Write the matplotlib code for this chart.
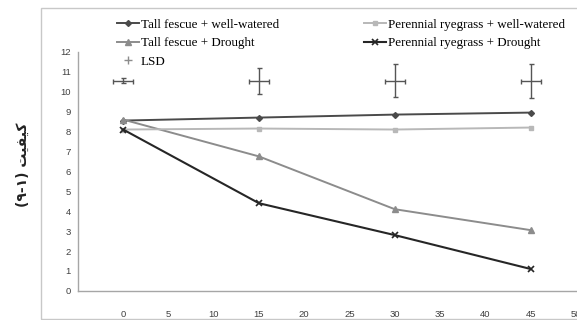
import matplotlib

matplotlib.use("Agg")
import matplotlib.pyplot as plt
from matplotlib.patches import Rectangle


DAYS = [0, 15, 30, 45]

TALL_FESCUE_WELL = [8.55, 8.7, 8.85, 8.95]
RYEGRASS_WELL = [8.1, 8.15, 8.1, 8.2]
TALL_FESCUE_DROUGHT = [8.6, 6.75, 4.1, 3.05]
RYEGRASS_DROUGHT = [8.1, 4.4, 2.8, 1.1]

LSD_CENTER = [10.55, 10.55, 10.55, 10.55]
LSD_HALF = [0.12, 0.66, 0.82, 0.85]
LSD_X_HALF = 1.1

X_TICKS = [0, 5, 10, 15, 20, 25, 30, 35, 40, 45, 50]
Y_TICKS = list(range(0, 13))

Y_LABEL = "کیفیت (۱-۹)"

# presentation forms for the letters of the label (no shaping engine in matplotlib)
FORMS = {
    "ک": ("\ufb8e", "\ufb8f", "\ufb90", "\ufb91"),
    "ی": ("\ufbfc", "\ufbfd", "\ufbfe", "\ufbff"),
    "ف": ("\ufed1", "\ufed2", "\ufed3", "\ufed4"),
    "ت": ("\ufe95", "\ufe96", "\ufe97", "\ufe98"),
}


def shape_word(word: str) -> str:
    out = []
    n = len(word)
    for i, ch in enumerate(word):
        forms = FORMS.get(ch)
        if forms is None:
            out.append(ch)
            continue
        prev_join = i > 0 and word[i - 1] in FORMS
        next_join = i < n - 1 and word[i + 1] in FORMS
        if prev_join and next_join:
            out.append(forms[3])
        elif prev_join:
            out.append(forms[1])
        elif next_join:
            out.append(forms[2])
        else:
            out.append(forms[0])
    return "".join(reversed(out))


def visual_label(text: str) -> str:
    word, numbers = text.split(" ", 1)
    inner = numbers.strip("()")
    left, right = inner.split("-")
    return "(" + right + "-" + left + ") " + shape_word(word)


def main() -> None:
    fig = plt.figure(figsize=(5.77, 3.2), dpi=100)

    frame = Rectangle(
        (41 / 577, 1 / 320),
        1.0,
        311 / 320,
        transform=fig.transFigure,
        fill=False,
        edgecolor="#c8c8c8",
        linewidth=1.0,
        clip_on=False,
    )
    fig.patches.append(frame)

    ax = fig.add_axes([0.135, 0.091, 0.863, 0.747])

    line_tf_w, = ax.plot(DAYS, TALL_FESCUE_WELL, color="#4a4a4a", marker="D",
                         markersize=3, linewidth=1.4)
    line_tf_d, = ax.plot(DAYS, TALL_FESCUE_DROUGHT, color="#8c8c8c", marker="^",
                         markersize=4, linewidth=1.4)
    line_pr_w, = ax.plot(DAYS, RYEGRASS_WELL, color="#b8b8b8", marker="s",
                         markersize=3.5, linewidth=1.4)
    line_pr_d, = ax.plot(DAYS, RYEGRASS_DROUGHT, color="#262626", marker="x",
                         markersize=4, markeredgewidth=1.2, linewidth=1.5)

    ax.errorbar(DAYS, LSD_CENTER, yerr=LSD_HALF, xerr=LSD_X_HALF, fmt="none",
                ecolor="#555555", elinewidth=1.0, capsize=1.8, capthick=1.0)
    lsd_handle, = ax.plot([], [], linestyle="none", marker="+", color="#8c8c8c",
                          markersize=6)

    ax.set_xlim(-5, 50)
    ax.set_ylim(0, 12)
    ax.set_xticks(X_TICKS)
    ax.set_yticks(Y_TICKS)

    for side in ["top", "right"]:
        ax.spines[side].set_visible(False)
    for side in ["left", "bottom"]:
        ax.spines[side].set_color("#a6a6a6")
        ax.spines[side].set_linewidth(1.0)

    ax.tick_params(axis="both", length=0, labelsize=6.8, labelcolor="#404040")
    ax.tick_params(axis="x", pad=14)
    ax.tick_params(axis="y", pad=5)
    for label in ax.get_xticklabels() + ax.get_yticklabels():
        label.set_family("Liberation Sans")

    fig.text(23 / 577, 1 - 165 / 320, visual_label(Y_LABEL), rotation=90,
             ha="center", va="center", fontsize=10, fontweight="bold",
             family=["DejaVu Sans"], color="#222222")

    legend_font = {"family": "Liberation Serif", "size": 9.4}
    fig.legend(
        [line_tf_w, line_tf_d, lsd_handle],
        ["Tall fescue + well-watered", "Tall fescue + Drought", "LSD"],
        loc="upper left",
        bbox_to_anchor=(117 / 577, 1 - 18.5 / 320),
        frameon=False,
        prop=legend_font,
        handlelength=1.7,
        handletextpad=0.12,
        borderpad=0,
        borderaxespad=0,
        labelspacing=0.5,
    )
    fig.legend(
        [line_pr_w, line_pr_d],
        ["Perennial ryegrass + well-watered", "Perennial ryegrass + Drought"],
        loc="upper left",
        bbox_to_anchor=(364 / 577, 1 - 18.5 / 320),
        frameon=False,
        prop=legend_font,
        handlelength=1.7,
        handletextpad=0.12,
        borderpad=0,
        borderaxespad=0,
        labelspacing=0.5,
    )

    fig.savefig("out.png", dpi=100)
    plt.close(fig)


if __name__ == "__main__":
    main()
